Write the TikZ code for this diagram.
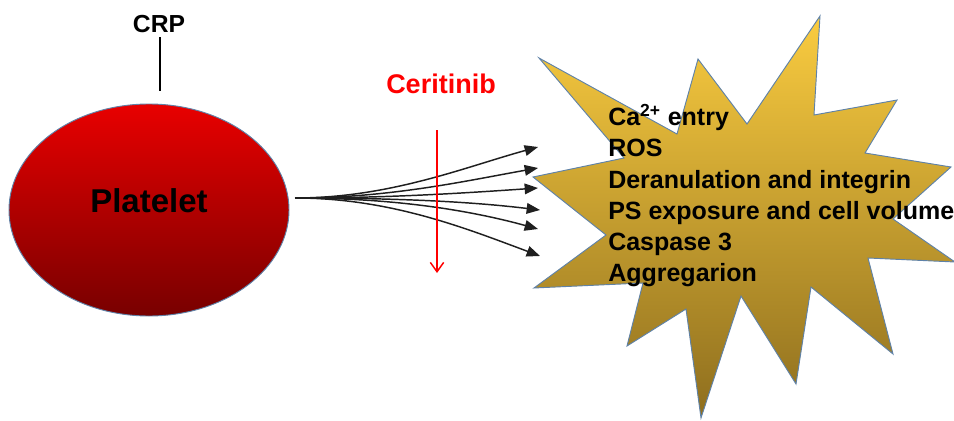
\documentclass[tikz,border=0pt]{standalone}
\usepackage{fontspec}
\setmainfont{Liberation Sans}
\usetikzlibrary{arrows.meta,shapes.geometric}
\definecolor{edgeblue}{HTML}{5F82A8}
\definecolor{redtop}{HTML}{E80000}
\definecolor{redbot}{HTML}{780000}
\definecolor{goldtop}{HTML}{FACC40}
\definecolor{goldmid}{HTML}{E2B63A}
\definecolor{goldbot}{HTML}{8E6E1E}
\definecolor{inhib}{HTML}{FF0000}
\begin{document}
\begin{tikzpicture}[x=0.75pt,y={(0,-0.75pt)},
  lbl/.style={font=\bfseries\fontsize{18.75pt}{22pt}\selectfont, inner sep=0pt, anchor=base west},
  fan/.style={line width=1.1pt, draw=black!88, -{Triangle[length=10pt,width=8pt]}},
  cell/.style={ellipse, draw=edgeblue, line width=0.7pt, top color=redtop, bottom color=redbot,
    minimum width=210pt, minimum height=159pt, inner sep=0pt,
    font=\bfseries\fontsize{24.75pt}{28pt}\selectfont, text depth=13.5pt},
  burst/.style={draw=edgeblue, line width=0.7pt, top color=goldtop, middle color=goldmid, bottom color=goldbot}
]
\useasboundingbox (0,0) rectangle (954,421);

% platelet
\node[cell] (plat) at (149,210) {Platelet};

% CRP
\node[font=\bfseries\fontsize{18.5pt}{22pt}\selectfont, inner sep=0pt, anchor=base] (crp) at (159,32) {CRP};
\coordinate (crpa) at (160,37);
\coordinate (crpb) at (160,91);
\draw[line width=1.1pt] (crpa) -- (crpb);

% burst
\path[burst] (533,177) -- (624,158) -- (539,58) -- (677,134) -- (698,59) -- (747,124)
  -- (820,16) -- (814,115) -- (897,100) -- (865,153) -- (951,167) -- (893,219)
  -- (955,262) -- (868,258) -- (893,354) -- (811,287) -- (796,384) -- (741,296)
  -- (701,418) -- (686,309) -- (627,346) -- (643,283) -- (534,288) -- (606,235) -- cycle;

% effects
\node[lbl] (e1) at (608,125) {Ca\textsuperscript{2+} entry};
\node[lbl] (e2) at (608,156) {ROS};
\node[lbl] (e3) at (608,188) {Deranulation and integrin};
\node[lbl] (e4) at (608,219) {PS exposure and cell volume};
\node[lbl] (e5) at (608,250) {Caspase 3};
\node[lbl] (e6) at (608,281) {Aggregarion};

% fan of arrows
\coordinate (src) at (295,198);
\coordinate (t1) at (538,147);
\coordinate (t2) at (538,168);
\coordinate (t3) at (538,188);
\coordinate (t4) at (540,210);
\coordinate (t5) at (538,229);
\coordinate (t6) at (540,256);
\draw[fan] (src) .. controls (390,198) and (465,167) .. (t1);
\draw[fan] (src) .. controls (390,198) and (465,181) .. (t2);
\draw[fan] (src) .. controls (390,198) and (465,193) .. (t3);
\draw[fan] (src) .. controls (390,198) and (465,201) .. (t4);
\draw[fan] (src) .. controls (390,198) and (465,209) .. (t5);
\draw[fan] (src) .. controls (390,198) and (465,228) .. (t6);

% inhibitor
\node[font=\bfseries\fontsize{20.25pt}{24pt}\selectfont, text=inhib, inner sep=0pt, anchor=base] (cer) at (441,93) {Ceritinib};
\coordinate (ra) at (437,130);
\coordinate (rb) at (437,273);
\draw[inhib, line width=1.1pt, -{Straight Barb[length=7pt,width=10pt]}] (ra) -- (rb);
\end{tikzpicture}
\end{document}
